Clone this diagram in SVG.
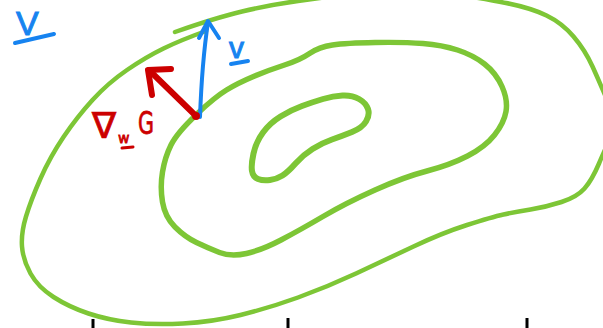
<svg xmlns="http://www.w3.org/2000/svg" width="603" height="328" viewBox="0 0 603 328">
<style>
.contour{fill:none;stroke:#7dc636;stroke-linecap:round;stroke-linejoin:round}
.blue{fill:none;stroke:#1683f0;stroke-linecap:round;stroke-linejoin:round}
.red{fill:none;stroke:#cc0000;stroke-linecap:round;stroke-linejoin:round}
.tick{stroke:#000;stroke-width:3}
.bt{fill:#1683f0;stroke:#1683f0;stroke-width:1;font-family:"Liberation Sans",Arial,sans-serif}
.rt{fill:#cc0000;stroke:#cc0000;stroke-width:0.8;font-family:"DejaVu Sans","Liberation Sans",sans-serif}
</style>
<rect width="603" height="328" fill="#fff"/>
<g id="contours">
<path id="outer" class="contour" stroke-width="4.5" d="M175 32 Q215 18 242 11.5 Q269 5 298 1 Q327 -3 363.5 -8 Q400 -14 440.5 -8 Q481 -2 506 3 Q531 8 546.5 15.5 Q562 23 573.5 36.5 Q585 50 592.5 66.5 Q600 83 607.5 101 Q615 122 612 135 Q606 147 599 163.5 Q592 180 584.5 188.5 Q577 197 561.5 202 Q546 207 530.5 209.5 Q515 212 503.5 214.5 Q492 217 467 225 Q442 233 413.5 246.5 Q385 260 356 273.5 Q327 287 298 297.5 Q269 308 240.5 315 Q212 322 183 323.5 Q154 325 131 322.5 Q108 320 88.5 313.5 Q69 307 53.5 297 Q38 287 30.5 273.5 Q23 260 22 246.5 Q21 233 26 216.5 Q31 200 40.5 178.5 Q50 157 63.5 137 Q77 117 92.5 100 Q108 83 127 70 Q146 57 163.5 48.5 Q181 40 206 31"/>
<path id="middle" class="contour" stroke-width="5.5" d="M196 115 Q177 133 171 145 Q165 157 162.5 172 Q160 187 162.5 202 Q165 217 175 227 Q185 237 196.5 242.5 Q208 248 219.5 252.5 Q231 257 246.5 253.5 Q262 250 281 240 Q300 230 323 216.5 Q346 203 375 190 Q404 177 427 171 Q450 165 467.5 156 Q485 147 494.5 135 Q504 123 506 111.5 Q508 100 502 86.5 Q496 73 484.5 64 Q473 55 457.5 50 Q442 45 423 43.5 Q404 42 375 42.5 Q346 43 332.5 45 Q319 47 309.5 53.5 Q300 60 284.5 65 Q269 70 253.5 76.5 Q238 83 226.5 90 Q215 97 198 113"/>
<path id="inner" class="contour" stroke-width="6" d="M252 171 Q251 165 253.5 153.5 Q256 142 263 132.5 Q270 123 280.5 116.5 Q291 110 302 106 Q313 102 323 99 Q333 96 342.5 95.5 Q352 95 359 99 Q366 103 368 109 Q370 115 366 121.5 Q362 128 352 132 Q342 136 332 139.5 Q322 143 312.5 149 Q303 155 295.5 163.5 Q288 172 282.5 175.5 Q277 179 270 180 Q263 181 258 179 Q253 177 252 171 Z"/>
</g>
<g id="arrows">
<g id="vector-v">
<path class="blue" stroke-width="4" d="M200 117 Q202 62 208 22"/>
<path class="blue" stroke-width="4" d="M199 38 L208 21 L219 38"/>
</g>
<g id="gradient">
<path class="red" stroke-width="6" d="M195 115 L151 72"/>
<path class="red" stroke-width="6" d="M152 95 L148 70 L171 69"/>
<circle cx="196" cy="116" r="4" fill="#cc0000"/>
</g>
</g>
<g id="label-V">
<text class="bt" x="16" y="35" font-size="34">V</text>
<line class="blue" stroke-width="4" x1="15" y1="43" x2="54" y2="34"/>
</g>
<g id="label-v">
<text class="bt" x="229" y="58" font-size="30">v</text>
<line class="blue" stroke-width="4" x1="231" y1="64" x2="248" y2="61"/>
</g>
<g id="label-grad">
<text class="rt" font-size="36"><tspan x="92" y="138">∇</tspan><tspan x="118" y="143" font-size="14">w</tspan><tspan x="138" y="134" font-size="32" textLength="16" lengthAdjust="spacingAndGlyphs">G</tspan></text>
<line class="red" stroke-width="3" x1="122" y1="148" x2="133" y2="147"/>
</g>
<g id="ticks">
<line class="tick" x1="93" y1="319" x2="93" y2="328"/>
<line class="tick" x1="288" y1="318" x2="288" y2="328"/>
<line class="tick" x1="527" y1="318" x2="527" y2="328"/>
</g>
</svg>
